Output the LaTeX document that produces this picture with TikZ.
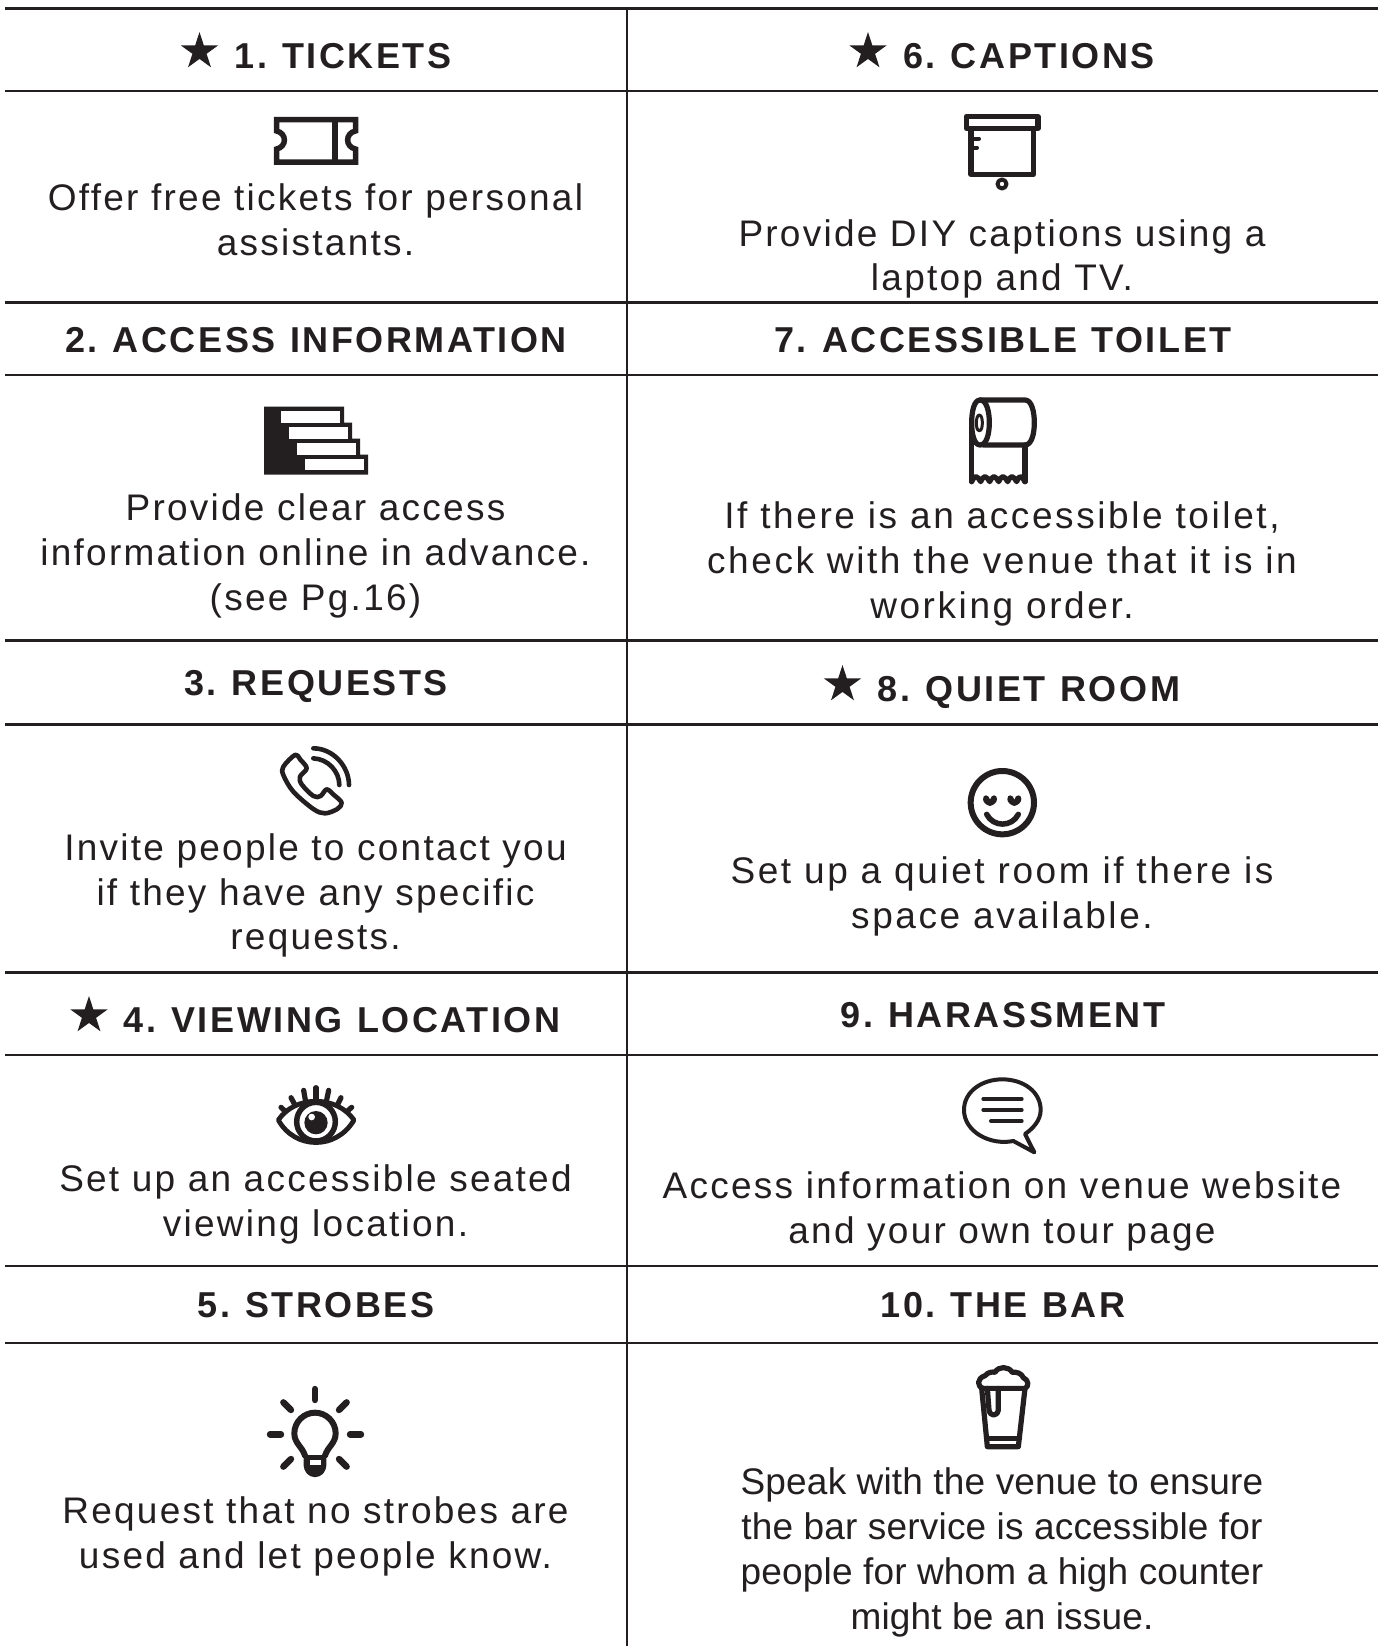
\documentclass[tikz,border=0pt]{standalone}
\usepackage{fontspec}
\usetikzlibrary{shapes.geometric}
\setmainfont{Liberation Sans}
\newfontfamily\bodyfam[LetterSpace=6.1]{Liberation Sans}
\newfontfamily\widerfam[LetterSpace=7]{Liberation Sans}
\newfontfamily\plainfam[LetterSpace=0.5]{Liberation Sans}
\newfontfamily\titlefam[LetterSpace=7.1,WordSpace=1.15,BoldFont={Liberation Sans Bold}]{Liberation Sans}
\newcommand{\nk}{\kern-3.5pt}
\definecolor{ink}{HTML}{231F20}
\tikzset{
  rule/.style={draw=ink,line width=2.4pt},
  bodytxt/.style={font=\bodyfam\fontsize{37}{44.6}\selectfont,text=ink,align=center,inner sep=0pt,anchor=center},
  widertxt/.style={bodytxt,font=\widerfam\fontsize{37}{44.6}\selectfont},
  plaintxt/.style={bodytxt,font=\plainfam\fontsize{37}{45}\selectfont},
  titletxt/.style={font=\titlefam\bfseries\fontsize{36}{42}\selectfont,text=ink,inner sep=0pt,anchor=base},
  starmark/.style={star,star points=5,star point ratio=2.618,fill=ink,inner sep=0pt,minimum size=39pt},
  ico/.style={draw=ink,line width=5.2pt,line cap=round,line join=round},
  icofill/.style={fill=ink,draw=none},
}
\begin{document}
\begin{tikzpicture}[x=1pt,y=-1pt]
\useasboundingbox (0,0) rectangle (1384,1646);
% grid
\coordinate (vt) at (627,8);
\coordinate (vb) at (627,1646);
\draw[rule] (vt) -- (vb);
\foreach \n/\yy in {a/8.4,b/91,c/302.5,d/375,e/640.5,f/724.5,g/972.3,h/1055,i/1266,j/1343}{
  \coordinate (l\n) at (5,\yy);
  \coordinate (r\n) at (1378,\yy);
  \draw[rule] (l\n) -- (r\n);
}
% titles
\node[titletxt] (t1) at (343,68) {1.\nk{} TICKETS};
\node[starmark] (s1) at (199.5,51.5) {};
\node[titletxt] (t6) at (1029,68) {6.\nk{} CAPTIONS};
\node[starmark] (s6) at (868,51.5) {};
\node[titletxt] (t2) at (316,352) {2.\nk{} ACCESS INFORMATION};
\node[titletxt] (t7) at (1003,352) {7.\nk{} ACCESSIBLE TOILET};
\node[titletxt] (t3) at (316,695) {3.\nk{} REQUESTS};
\node[titletxt] (t8) at (1029,701) {8.\nk{} QUIET ROOM};
\node[starmark] (s8) at (842.5,684.5) {};
\node[titletxt] (t4) at (342,1032) {4.\nk{} VIEWING LOCATION};
\node[starmark] (s4) at (89,1015.5) {};
\node[titletxt] (t9) at (1003,1027.5) {9.\nk{} HARASSMENT};
\node[titletxt] (t5) at (316,1317.5) {5.\nk{} STROBES};
\node[titletxt] (t10) at (1003,1317.5) {10.\nk{} THE BAR};
% body text
\node[bodytxt] (b1) at (315.5,220) {Offer free tickets for personal\\assistants.};
\node[bodytxt] (b6) at (1002,259) {Provide DIY captions using a\\laptop and TV.};
\node[bodytxt] (b2) at (315.5,556) {Provide clear access\\information online in advance.\\(see Pg.16)};
\node[widertxt] (b7) at (1002,564) {If there is an accessible toilet,\\check with the venue that it is in\\working order.};
\node[bodytxt] (b3) at (315.5,895.5) {Invite people to contact you\\if they have any specific\\requests.};
\node[widertxt] (b8) at (1002,896.5) {Set up a quiet room if there is\\space available.};
\node[bodytxt] (b4) at (315.5,1204.5) {Set up an accessible seated\\viewing location.};
\node[bodytxt] (b9) at (1002,1211.5) {Access information on venue website\\and your own tour page};
\node[bodytxt] (b5) at (315.5,1536.5) {Request that no strobes are\\used and let people know.};
\node[plaintxt] (b10) at (1002,1552) {Speak with the venue to ensure\\the bar service is accessible for\\people for whom a high counter\\might be an issue.};
% ticket
\draw[ico,line width=5.5pt,line cap=butt,line join=miter]
  (276.5,119.5) -- (355.5,119.5) -- (355.5,131) .. controls (345,133) and (345,147) .. (355.5,149) -- (355.5,162) -- (276.5,162) -- (276.5,149) .. controls (287,147) and (287,133) .. (276.5,131) -- cycle;
\draw[ico,line width=5.5pt,line cap=butt] (335,119.5) -- (335,162);
% screen
\draw[ico] (966.5,116.5) rectangle (1038,128.5);
\draw[ico] (971,129) -- (971,174.5) -- (1033.5,174.5) -- (1033.5,129);
\draw[ico,line width=4pt] (1002,184) circle[radius=4.5];
\draw[ico,line width=4pt] (972,138.5) -- (979,138.5);
\draw[ico,line width=4pt] (972,147.5) -- (977,147.5);
% stairs
\fill[icofill] (264,406.7) -- (344,406.7) -- (344,422.7) -- (352,422.7) -- (352,438.7) -- (360,438.7) -- (360,454.7) -- (368,454.7) -- (368,474.7) -- (264,474.7) -- cycle;
\fill[white] (281.3,411.3) rectangle (340,422.7);
\fill[white] (289.3,427.3) rectangle (348,438.7);
\fill[white] (297.3,443.3) rectangle (356,454.7);
\fill[white] (305.3,459) rectangle (364,470);
% toilet roll
\begin{scope}[shift={(920,385)},x=1/3*1pt,y=-1/3*1pt]
\draw[ico] (180,45) -- (315,45) .. controls (335,45) and (343,80) .. (343,113) .. controls (343,146) and (335,180) .. (315,180) -- (190,180);
\draw[ico] (180,45) .. controls (200,45) and (208,80) .. (208,113) .. controls (208,146) and (200,180) .. (180,180) .. controls (162,180) and (155,146) .. (155,113) .. controls (155,80) and (162,45) .. (180,45) -- cycle;
\draw[ico,line width=3pt] (178,90) .. controls (185,90) and (187,105) .. (187,113) .. controls (187,125) and (185,137) .. (178,137) .. controls (171,137) and (169,125) .. (169,113) .. controls (169,105) and (171,90) .. (178,90) -- cycle;
\draw[ico] (155,113) -- (155,290);
\draw[ico] (315,180) -- (315,290);
\draw[ico] (155,290) .. controls (165,270) and (170,270) .. (182,290) .. controls (192,270) and (197,270) .. (209,290) .. controls (219,270) and (224,270) .. (236,290) .. controls (246,270) and (251,270) .. (263,290) .. controls (273,270) and (278,270) .. (290,290) .. controls (298,270) and (303,270) .. (315,290);
\end{scope}
% phone
\begin{scope}[shift={(250,735)},x=1/3*1pt,y=-1/3*1pt]
\draw[ico,line width=4.6pt] plot[smooth cycle,tension=0.55] coordinates {(135,60) (152,75) (170,100) (150,125) (155,148) (190,183) (212,183) (230,163) (252,180) (275,203) (262,222) (225,235) (190,222) (130,170) (100,120) (100,95)};
\draw[ico,line width=4.6pt] (190,40) .. controls (250,40) and (297,95) .. (297,150);
\draw[ico,line width=4.6pt] (190,70) .. controls (235,72) and (268,110) .. (268,150);
\end{scope}
% smiley
\begin{scope}[shift={(940,755)},x=1/3*1pt,y=-1/3*1pt]
\draw[ico,line width=6pt] (187,143) circle[radius=95];
\foreach \cx in {150,223}{
  \fill[icofill,shift={(\cx,0)}] (0,153) .. controls (-12,150) and (-21,142) .. (-21,132) .. controls (-21,117) and (-4,117) .. (0,134) .. controls (4,117) and (21,117) .. (21,132) .. controls (21,142) and (12,150) .. (0,153) -- cycle;
}
\draw[ico,line width=5.5pt] (140,178) .. controls (160,217) and (215,217) .. (235,178);
\end{scope}
% eye
\begin{scope}[shift={(255,1075)},x=1/3*1pt,y=-1/3*1pt]
\draw[ico,line width=4.8pt] (70,135) .. controls (120,60) and (245,60) .. (297,135) .. controls (245,225) and (120,225) .. (70,135) -- cycle;
\draw[ico,line width=5.5pt,fill=white] (183,140) circle[radius=58];
\fill[icofill] (183,143) circle[radius=35];
\fill[white] (170,126) circle[radius=10];
\foreach \xa/\ya/\xb/\yb in {183/38/183/75,146/46/151/75,108/68/120/90,78/97/92/110,221/46/215/75,258/68/247/90,290/97/275/110}{
  \draw[ico] (\xa,\ya) -- (\xb,\yb);
}
\end{scope}
% speech bubble
\begin{scope}[shift={(945,1065)},x=1/3*1pt,y=-1/3*1pt]
\draw[ico,line width=4pt] (205,228) .. controls (135,242) and (57,200) .. (57,135) .. controls (57,80) and (110,43) .. (172,43) .. controls (235,43) and (287,80) .. (287,135) .. controls (287,165) and (265,190) .. (240,207) -- (268,262) -- cycle;
\draw[ico,line width=4pt] (115,102) -- (230,102);
\draw[ico,line width=4pt] (115,135) -- (230,135);
\draw[ico,line width=4pt] (138,168) -- (230,168);
\end{scope}
% bulb
\begin{scope}[shift={(255,1375)},x=1/3*1pt,y=-1/3*1pt]
\foreach \xa/\ya/\xb/\yb in {180/42/180/75,85/82/108/105,275/82/252/105,45/178/78/178,285/178/318/178,108/252/85/275,252/252/275/275}{
  \draw[ico,line width=6.4pt] (\xa,\ya) -- (\xb,\yb);
}
\draw[ico,line width=6pt] (150,242) .. controls (142,215) and (118,205) .. (118,175) .. controls (118,140) and (147,113) .. (180,113) .. controls (213,113) and (242,140) .. (242,175) .. controls (242,205) and (218,215) .. (210,242);
\fill[icofill,rounded corners=4pt] (146,240) -- (214,240) -- (214,284) -- (195,306) -- (165,306) -- (146,284) -- cycle;
\fill[white] (165,255) rectangle (197,270);
\end{scope}
% beer
\begin{scope}[shift={(950,1355)},x=1/3*1pt,y=-1/3*1pt]
\draw[ico] (100,100) .. controls (80,95) and (80,70) .. (105,62) .. controls (115,50) and (130,50) .. (135,52) .. controls (145,33) and (175,33) .. (187,52) .. controls (200,50) and (215,55) .. (220,68) .. controls (237,75) and (237,95) .. (225,100) -- cycle;
\draw[ico] (95,100) -- (112,275) -- (205,275) -- (225,100);
\draw[ico] (117,250) -- (203,250);
\draw[ico] (112,100) -- (117,165) .. controls (120,185) and (142,185) .. (145,165) -- (145,100);
\end{scope}
\end{tikzpicture}
\end{document}
